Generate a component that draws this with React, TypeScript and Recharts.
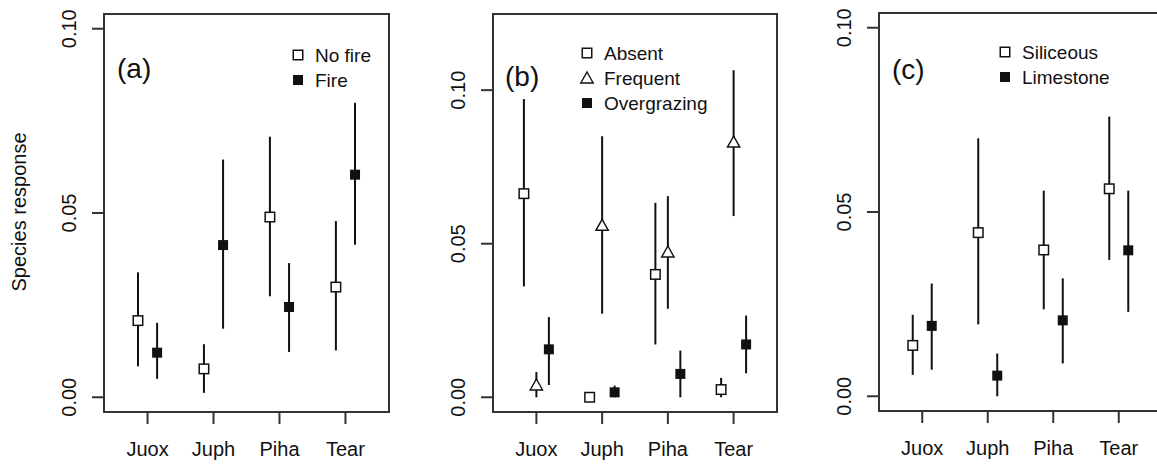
import { ScatterChart, Scatter, XAxis, YAxis, ErrorBar, ReferenceArea, Legend } from 'recharts';

const FONT = '"Liberation Sans", Arial, sans-serif';
const INK = '#111';
const FRAME = '#333';

const categories = ['Juox', 'Juph', 'Piha', 'Tear'];
const categoryTicks = [1, 2, 3, 4];
const yTicks = [0, 0.05, 0.1];
const xDomain = [0.34, 4.66];

// (a) fire
const noFireMean = [0.0208, 0.0077, 0.0489, 0.0299];
const noFireLow = [0.0084, 0.0012, 0.0274, 0.0127];
const noFireHigh = [0.0339, 0.0144, 0.0707, 0.0478];
const fireMean = [0.0121, 0.0413, 0.0245, 0.0604];
const fireLow = [0.005, 0.0186, 0.0123, 0.0414];
const fireHigh = [0.0202, 0.0645, 0.0364, 0.0799];

// (b) grazing
const absentMean = [0.0663, 0.0, 0.04, 0.0025];
const absentLow = [0.0361, 0.0, 0.0172, 0.0];
const absentHigh = [0.0971, 0.0005, 0.0633, 0.0063];
const frequentMean = [0.004, 0.056, 0.0473, 0.0831];
const frequentLow = [0.0, 0.0272, 0.0288, 0.059];
const frequentHigh = [0.0082, 0.085, 0.0655, 0.1065];
const overMean = [0.0156, 0.0016, 0.0076, 0.0172];
const overLow = [0.004, 0.0, 0.0, 0.0078];
const overHigh = [0.0261, 0.0038, 0.0152, 0.0266];

// (c) substrate
const silMean = [0.0138, 0.0444, 0.0397, 0.0563];
const silLow = [0.0058, 0.0195, 0.0236, 0.037];
const silHigh = [0.0221, 0.07, 0.0558, 0.0759];
const limMean = [0.0191, 0.0056, 0.0206, 0.0396];
const limLow = [0.0072, 0.0, 0.0089, 0.0229];
const limHigh = [0.0306, 0.0116, 0.032, 0.0558];

type Marker = 'open' | 'filled' | 'triangle';
type Series = { name: string; mean: number[]; low: number[]; high: number[]; offset: number; marker: Marker };

const drawMarker = (m: Marker, cx: number, cy: number) => {
  if (m === 'open')
    return <rect x={cx - 4.75} y={cy - 4.75} width={9.5} height={9.5} fill="#fff" stroke={INK} strokeWidth={1.5} />;
  if (m === 'filled') return <rect x={cx - 5} y={cy - 5} width={10} height={10} fill={INK} />;
  return (
    <path
      d={`M${cx},${cy - 6} L${cx + 6.2},${cy + 5} L${cx - 6.2},${cy + 5} Z`}
      fill="#fff"
      stroke={INK}
      strokeWidth={1.4}
      strokeLinejoin="miter"
    />
  );
};

const toRows = (s: Series) =>
  categories.map((c, i) => ({
    cat: c,
    x: i + 1 + s.offset,
    y: s.mean[i],
    err: [s.mean[i] - s.low[i], s.high[i] - s.mean[i]],
  }));

const panelA: Series[] = [
  { name: 'No fire', mean: noFireMean, low: noFireLow, high: noFireHigh, offset: -0.145, marker: 'open' },
  { name: 'Fire', mean: fireMean, low: fireLow, high: fireHigh, offset: 0.145, marker: 'filled' },
];
const panelB: Series[] = [
  { name: 'Absent', mean: absentMean, low: absentLow, high: absentHigh, offset: -0.19, marker: 'open' },
  { name: 'Frequent', mean: frequentMean, low: frequentLow, high: frequentHigh, offset: 0, marker: 'triangle' },
  { name: 'Overgrazing', mean: overMean, low: overLow, high: overHigh, offset: 0.19, marker: 'filled' },
];
const panelC: Series[] = [
  { name: 'Siliceous', mean: silMean, low: silLow, high: silHigh, offset: -0.145, marker: 'open' },
  { name: 'Limestone', mean: limMean, low: limLow, high: limHigh, offset: 0.145, marker: 'filled' },
];

const YTick = (props: any) => {
  const { x, y, payload } = props;
  const tx = x - 14;
  return (
    <text x={tx} y={y} transform={`rotate(-90 ${tx} ${y})`} textAnchor="middle" fontSize={20} fontFamily={FONT} fill={INK}>
      {Number(payload.value).toFixed(2)}
    </text>
  );
};

const XTick = (props: any) => {
  const { x, y, payload } = props;
  return (
    <text x={x} y={y} dy="0.71em" textAnchor="middle" fontSize={20} fontFamily={FONT} fill={INK}>
      {categories[payload.value - 1]}
    </text>
  );
};

const LegendBox = ({ series }: { series: Series[] }) => (
  <svg width={160} height={series.length * 25} style={{ display: 'block', overflow: 'visible' }}>
    {series.map((s, i) => (
      <g key={s.name}>
        {drawMarker(s.marker, 7, 12 + i * 25)}
        <text x={24} y={19 + i * 25} fontSize={19} fontFamily={FONT} fill={INK}>
          {s.name}
        </text>
      </g>
    ))}
  </svg>
);

type PanelProps = {
  left: number;
  width: number;
  yAxisWidth: number;
  plotWidth: number;
  top: number;
  xAxisHeight: number;
  yDomain: number[];
  series: Series[];
  legendLeft: number;
  legendTop: number;
};

const Panel = ({ left, width, yAxisWidth, plotWidth, top, xAxisHeight, yDomain, series, legendLeft, legendTop }: PanelProps) => (
  <div style={{ position: 'absolute', left, top: 0 }}>
    <ScatterChart
      width={width}
      height={466}
      margin={{ top, right: width - yAxisWidth - plotWidth, bottom: 0, left: 0 }}
    >
      <XAxis
        type="number"
        dataKey="x"
        domain={xDomain}
        ticks={categoryTicks}
        interval={0}
        height={xAxisHeight}
        axisLine={false}
        tickSize={12}
        tickMargin={18}
        tickLine={{ stroke: FRAME, strokeWidth: 2 }}
        tick={<XTick />}
      />
      <YAxis
        type="number"
        dataKey="y"
        domain={yDomain}
        ticks={yTicks}
        interval={0}
        width={yAxisWidth}
        axisLine={false}
        tickSize={12}
        tickLine={{ stroke: FRAME, strokeWidth: 2 }}
        tick={<YTick />}
      />
      <ReferenceArea
        x1={xDomain[0]}
        x2={xDomain[1]}
        y1={yDomain[0]}
        y2={yDomain[1]}
        fill="none"
        fillOpacity={0}
        stroke={FRAME}
        strokeWidth={2}
        ifOverflow="visible"
      />
      {series.map((s) => (
        <Scatter
          key={s.name}
          name={s.name}
          data={toRows(s)}
          isAnimationActive={false}
          shape={(p: any) => drawMarker(s.marker, p.cx, p.cy)}
        >
          <ErrorBar dataKey="err" direction="y" width={0} stroke={INK} strokeWidth={2} isAnimationActive={false} />
        </Scatter>
      ))}
      <Legend
        layout="vertical"
        align="center"
        verticalAlign="middle"
        wrapperStyle={{ left: legendLeft, top: legendTop, width: 160 }}
        content={() => <LegendBox series={series} />}
      />
    </ScatterChart>
  </div>
);

const App = () => (
  <div style={{ position: 'absolute', left: 0, top: 0, width: 1157, height: 466, overflow: 'hidden', background: '#fff' }}>
    <Panel left={0} width={395} yAxisWidth={104} plotWidth={285} top={14} xAxisHeight={54} yDomain={[-0.004, 0.104]} series={panelA} legendLeft={291} legendTop={42.5} />
    <Panel left={392} width={392} yAxisWidth={101} plotWidth={284} top={14} xAxisHeight={54} yDomain={[-0.0048, 0.1248]} series={panelB} legendLeft={188} legendTop={41} />
    <Panel left={784} width={390} yAxisWidth={95} plotWidth={283} top={13} xAxisHeight={55} yDomain={[-0.004, 0.104]} series={panelC} legendLeft={214} legendTop={40} />
    <svg width={1157} height={466} style={{ position: 'absolute', left: 0, top: 0, pointerEvents: 'none' }}>
      <text x={26} y={212} transform="rotate(-90 26 212)" textAnchor="middle" fontSize={20} fontFamily={FONT} fill={INK}>
        Species response
      </text>
      <text x={117} y={78} fontSize={28} fontFamily={FONT} fill={INK}>(a)</text>
      <text x={505} y={86} fontSize={28} fontFamily={FONT} fill={INK}>(b)</text>
      <text x={892} y={79} fontSize={28} fontFamily={FONT} fill={INK}>(c)</text>
    </svg>
  </div>
);

export default App;
